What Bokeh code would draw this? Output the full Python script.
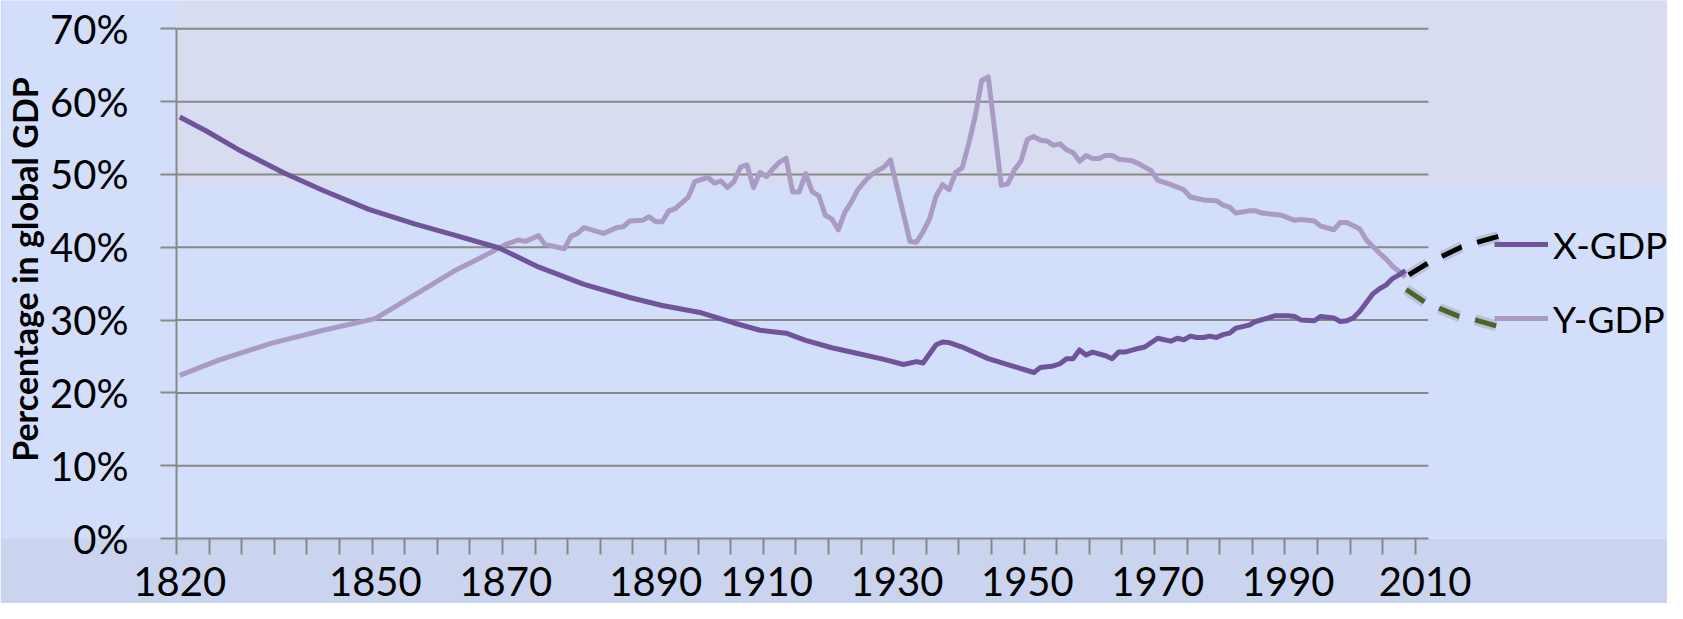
from bokeh.plotting import figure
from bokeh.models import Range1d, FixedTicker, PrintfTickFormatter, Legend, LegendItem
from bokeh.embed import file_html
from bokeh.resources import INLINE

# ---------------- data ----------------
x_years = [1820, 1824, 1829, 1836, 1842, 1849, 1856, 1862, 1869, 1875, 1882, 1889, 1894, 1900,
           1905, 1909, 1913, 1916, 1920, 1924, 1928, 1931, 1933, 1934, 1936, 1937, 1938, 1940,
           1944, 1948, 1951, 1952, 1954, 1955, 1956, 1957, 1958, 1959, 1960, 1962, 1963, 1964,
           1965, 1967, 1968, 1970, 1971, 1972, 1973, 1974, 1975, 1976, 1977, 1978, 1979, 1980,
           1981, 1982, 1984, 1985, 1987, 1988, 1990, 1991, 1992, 1994, 1995, 1996, 1997, 1998,
           1999, 2000, 2001, 2002, 2003, 2004, 2005, 2006, 2007, 2008]
x_gdp = [57.9, 56.0, 53.4, 50.2, 47.8, 45.2, 43.2, 41.7, 39.9, 37.3, 34.9, 33.1, 32.0, 31.0,
         29.6, 28.6, 28.2, 27.2, 26.2, 25.4, 24.6, 23.9, 24.3, 24.1, 26.6, 27.0, 26.9, 26.3,
         24.7, 23.6, 22.8, 23.5, 23.7, 24.0, 24.7, 24.7, 25.9, 25.2, 25.6, 25.1, 24.7, 25.6,
         25.6, 26.1, 26.3, 27.5, 27.3, 27.1, 27.5, 27.3, 27.8, 27.6, 27.6, 27.8, 27.6, 28.0,
         28.2, 28.9, 29.3, 29.8, 30.3, 30.6, 30.6, 30.5, 30.0, 29.9, 30.5, 30.4, 30.3, 29.8,
         29.9, 30.3, 31.2, 32.4, 33.6, 34.3, 34.8, 35.7, 36.2, 36.8]

y_years = [1820, 1826, 1834, 1842, 1850, 1862, 1866, 1870, 1872, 1873, 1875, 1876, 1879, 1880,
           1881, 1882, 1885, 1887, 1888, 1889, 1891, 1892, 1893, 1894, 1895, 1896, 1898, 1899,
           1901, 1902, 1903, 1904, 1905, 1906, 1907, 1908, 1909, 1910, 1911, 1912, 1913, 1914,
           1915, 1916, 1917, 1918, 1919, 1920, 1921, 1922, 1923, 1924, 1925, 1926, 1927, 1928,
           1929, 1932, 1933, 1934, 1935, 1936, 1937, 1938, 1939, 1940, 1941, 1942, 1943, 1944,
           1945, 1946, 1947, 1948, 1949, 1950, 1951, 1952, 1953, 1954, 1955, 1956, 1957, 1958,
           1959, 1960, 1961, 1962, 1963, 1964, 1966, 1967, 1968, 1969, 1970, 1971, 1972, 1974,
           1975, 1976, 1977, 1979, 1980, 1981, 1982, 1984, 1985, 1986, 1988, 1989, 1991, 1992,
           1994, 1995, 1997, 1998, 1999, 2001, 2002, 2004, 2005, 2006, 2007, 2008]
y_gdp = [22.4, 24.5, 26.8, 28.6, 30.2, 36.7, 38.5, 40.4, 41.0, 40.8, 41.6, 40.4, 39.8, 41.5,
         41.9, 42.7, 41.9, 42.7, 42.8, 43.6, 43.7, 44.2, 43.5, 43.5, 45.0, 45.3, 46.9, 49.0,
         49.6, 48.8, 49.1, 48.2, 49.0, 51.0, 51.3, 48.2, 50.3, 49.7, 50.8, 51.7, 52.2, 47.6,
         47.6, 50.1, 47.6, 47.1, 44.4, 43.9, 42.4, 44.8, 46.2, 47.9, 49.0, 49.9, 50.5, 51.0,
         52.0, 40.8, 40.7, 42.1, 43.9, 47.0, 48.6, 47.9, 50.3, 50.9, 54.2, 58.0, 62.9, 63.4,
         56.0, 48.5, 48.7, 50.6, 51.8, 54.8, 55.2, 54.7, 54.6, 54.0, 54.2, 53.4, 53.0, 51.8,
         52.6, 52.2, 52.2, 52.6, 52.6, 52.1, 51.9, 51.5, 51.0, 50.5, 49.2, 48.9, 48.6, 47.9,
         46.9, 46.7, 46.5, 46.4, 45.8, 45.5, 44.7, 45.0, 45.0, 44.7, 44.5, 44.4, 43.7, 43.8,
         43.6, 42.9, 42.4, 43.4, 43.4, 42.5, 41.0, 39.2, 38.4, 37.4, 36.7, 35.9]

# hand-drawn dashed projections towards the legend
proj_x_years = [2008.5, 2011.4, 2013.7, 2016.5, 2019.1, 2022.3]
proj_x_vals = [36.2, 37.8, 38.8, 40.0, 40.7, 41.5]
proj_y_years = [2008.1, 2010.9, 2013.2, 2016.2, 2018.8, 2021.9]
proj_y_vals = [34.2, 32.5, 31.6, 30.5, 30.0, 29.2]

tick_labels = ["1820", "1850", "1870", "1890", "1910", "1930", "1950", "1970", "1990", "2010"]
tick_label_pos = [1820, 1850, 1870, 1893, 1910, 1930, 1950, 1970, 1990, 2011]
y_ticks = [0, 10, 20, 30, 40, 50, 60, 70]
tick_marks = [1819.5 + 5 * k for k in range(39)]

# ---------------- figure ----------------
W, H = 1667, 603
FONT = "Lato"
GRID = "#888888"
LIGHT = "#d3defb"
TOPBAND = "#d8dcf1"
BOTTOMBAND = "#cad4ee"
LW = 5

p = figure(width=W, height=H, output_backend="svg", toolbar_location=None, title=None,
           x_range=Range1d(1819.5, 2048.18), y_range=Range1d(0, 73.89),
           min_border_left=176, min_border_right=0, min_border_top=0, min_border_bottom=65,
           background_fill_color=LIGHT, border_fill_color=LIGHT,
           outline_line_color=None)
p.xgrid.visible = False
p.ygrid.visible = False

# lavender top band of the slide background
p.quad(left=1819.5, right=2048.18, bottom=48.2, top=73.89, fill_color=TOPBAND,
       line_color=None, level="image")

# gridlines limited to the chart area
for g in y_ticks[1:]:
    p.segment(x0=1819.5, x1=2011.5, y0=g, y1=g, line_color=GRID, line_width=2)

# x axis: axis line, tick marks every 5 categories, category labels
xa = p.xaxis[0]
xa.ticker = FixedTicker(ticks=tick_label_pos, minor_ticks=tick_marks)
xa.major_label_overrides = {pos: lab for pos, lab in zip(tick_label_pos, tick_labels)}
xa.bounds = (1819.5, 2011.5)
xa.axis_line_color = GRID
xa.axis_line_width = 2
xa.major_tick_out = 0
xa.major_tick_in = 0
xa.major_tick_line_color = None
xa.minor_tick_out = 16
xa.minor_tick_in = 0
xa.minor_tick_line_color = GRID
xa.minor_tick_line_width = 2
xa.major_label_standoff = 12
xa.major_label_text_font = FONT
xa.major_label_text_font_size = "40px"
xa.major_label_text_color = "black"

# y axis
ya = p.yaxis[0]
ya.ticker = FixedTicker(ticks=y_ticks, minor_ticks=[])
ya.formatter = PrintfTickFormatter(format="%d%%")
ya.bounds = (0, 70)
ya.axis_line_color = GRID
ya.axis_line_width = 2
ya.major_tick_out = 16
ya.major_tick_in = 0
ya.major_tick_line_color = GRID
ya.major_tick_line_width = 2
ya.minor_tick_line_color = None
ya.major_label_standoff = 32
ya.major_label_text_font = FONT
ya.major_label_text_font_size = "40px"
ya.major_label_text_color = "black"
ya.axis_label = "Percentage in global GDP"
ya.axis_label_text_font = FONT
ya.axis_label_text_font_style = "bold"
ya.axis_label_text_font_size = "34px"
ya.axis_label_text_color = "black"
ya.axis_label_standoff = 2

# left strip light, bottom strip greyer (slide background)
try:
    ya.background_fill_color = LIGHT
    ya.background_fill_alpha = 1.0
    p.border_fill_color = BOTTOMBAND
except AttributeError:
    pass

# series
ry = p.line(y_years, y_gdp, line_color="#a99bc4", line_width=LW, line_join="round")
rx = p.line(x_years, x_gdp, line_color="#6f5499", line_width=LW, line_join="round")

# dashed projections with a soft shadow
for xs, ys, col in [(proj_x_years, proj_x_vals, "#000000"), (proj_y_years, proj_y_vals, "#4f6228")]:
    p.line(xs, ys, line_color="#444444", line_alpha=0.18, line_width=11, line_dash="22 16")
    p.line(xs, ys, line_color=col, line_width=LW, line_dash="22 16")

# legend
legend = Legend(items=[LegendItem(label="X-GDP", renderers=[rx]),
                       LegendItem(label="Y-GDP", renderers=[ry])],
                location=(1318, 183), orientation="vertical", padding=0, margin=0, spacing=0,
                glyph_width=54, glyph_height=74, label_height=74, label_standoff=5,
                label_text_font=FONT, label_text_font_size="37px", label_text_color="black",
                background_fill_alpha=0, border_line_alpha=0)
p.add_layout(legend)

open("out.html", "w").write(file_html(p, INLINE))
